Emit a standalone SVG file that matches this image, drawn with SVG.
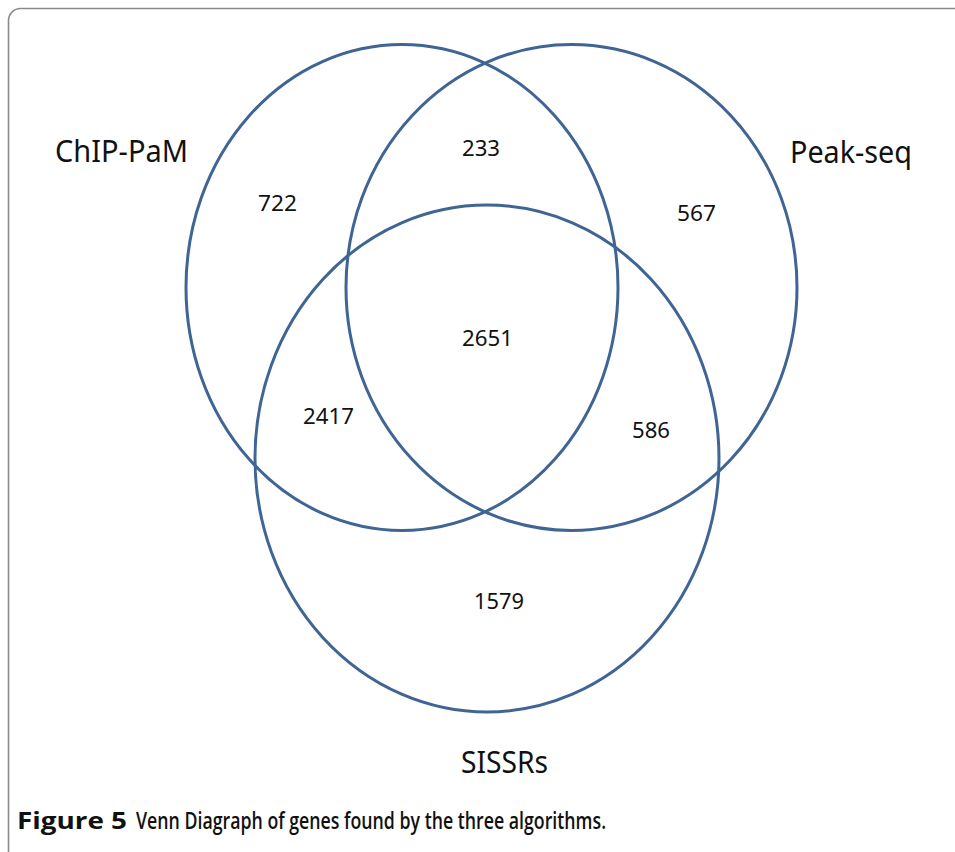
<svg xmlns="http://www.w3.org/2000/svg" width="955" height="852" viewBox="0 0 955 852">
<style>
.set{fill:none;stroke:#3F6594;stroke-width:3}
.lbl{font-family:"Noto Sans","Open Sans",sans-serif;fill:#111}
.big{font-size:30px}
.num{font-size:21px}
.cap{font-family:"Open Sans","Noto Sans",sans-serif;font-size:24px;fill:#111}
</style>
<rect width="955" height="852" fill="#fff"/>
<path d="M8.5,852 V20 A12,12 0 0 1 20.5,8.5 H955" fill="none" stroke="#8a8a8a" stroke-width="1.6"/>
<g id="sets">
<g id="chip-pam"><ellipse class="set" cx="402" cy="287.5" rx="216" ry="243"/></g>
<g id="peak-seq"><ellipse class="set" cx="571.5" cy="287.5" rx="225.5" ry="243"/></g>
<g id="sissrs"><ellipse class="set" cx="487" cy="458.5" rx="232" ry="253.5"/></g>
</g>
<g id="labels">
<text class="lbl big" x="55" y="162" textLength="133" lengthAdjust="spacingAndGlyphs">ChIP-PaM</text>
<text class="lbl big" x="790" y="163" textLength="122" lengthAdjust="spacingAndGlyphs">Peak-seq</text>
<text class="lbl big" x="461" y="773" textLength="87" lengthAdjust="spacingAndGlyphs">SISSRs</text>
<text class="lbl num" x="258" y="211" textLength="39" lengthAdjust="spacingAndGlyphs">722</text>
<text class="lbl num" x="462" y="156" textLength="38" lengthAdjust="spacingAndGlyphs">233</text>
<text class="lbl num" x="677" y="221" textLength="39" lengthAdjust="spacingAndGlyphs">567</text>
<text class="lbl num" x="462" y="346" textLength="51" lengthAdjust="spacingAndGlyphs">2651</text>
<text class="lbl num" x="303" y="424" textLength="51" lengthAdjust="spacingAndGlyphs">2417</text>
<text class="lbl num" x="632" y="438" textLength="38" lengthAdjust="spacingAndGlyphs">586</text>
<text class="lbl num" x="474" y="609" textLength="50" lengthAdjust="spacingAndGlyphs">1579</text>
</g>
<g id="caption">
<text class="cap" x="17" y="829" font-weight="700" textLength="110" lengthAdjust="spacingAndGlyphs">Figure 5</text>
<text class="cap" x="136" y="829" font-weight="600" textLength="470" lengthAdjust="spacingAndGlyphs">Venn Diagraph of genes found by the three algorithms.</text>
</g>
</svg>
